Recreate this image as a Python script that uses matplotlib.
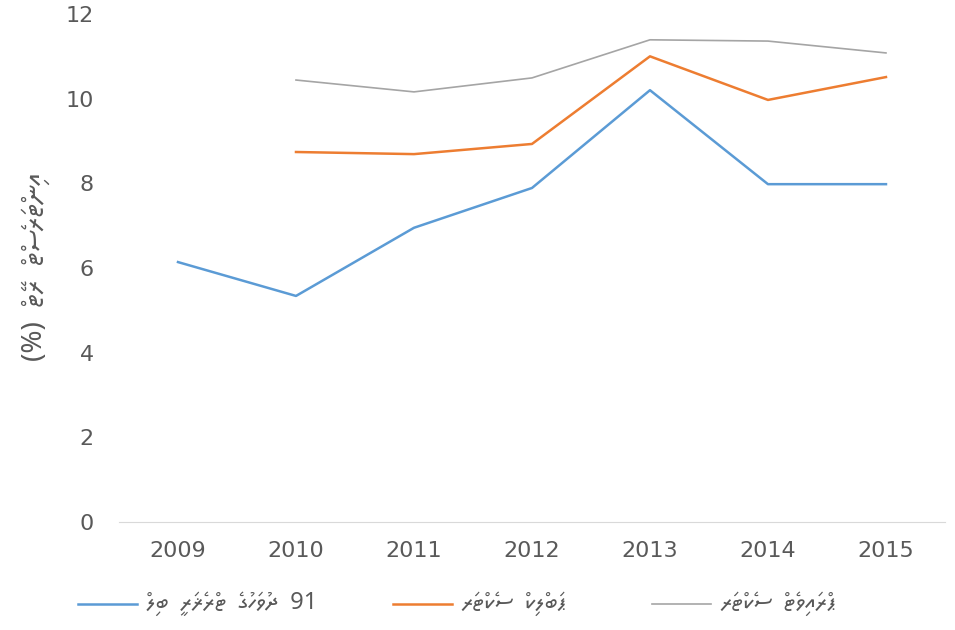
import os
import matplotlib
matplotlib.use("Agg")
import matplotlib.pyplot as plt
from matplotlib import font_manager
from matplotlib.lines import Line2D
import numpy as np

# data
years = ["2009", "2010", "2011", "2012", "2013", "2014", "2015"]
tbill_91 = [6.14, 5.34, 6.95, 7.89, 10.2, 7.98, 7.98]
public_sector = [np.nan, 8.74, 8.69, 8.93, 11.0, 9.97, 10.51]
private_sector = [np.nan, 10.44, 10.16, 10.49, 11.39, 11.36, 11.08]

labels = ["91 ދުވަހުގެ ޓްރެޜަރީ ބިލް", "ޕަބްލިކް ސެކްޓަރ", "ޕްރައިވެޓް ސެކްޓަރ"]
ylabel = "އިންޓަރެސްޓް ރޭޓް (%)"
yticks = [0, 2, 4, 6, 8, 10, 12]
colors = ['#5b9bd5', '#ed7d31', '#a5a5a5']

# Thaana font is not always registered, add it by path
thaana_path = '/usr/share/fonts/truetype/google-fonts/NotoSansThaana[wght].ttf'
if os.path.exists(thaana_path):
    font_manager.fontManager.addfont(thaana_path)
thaana = ['Noto Sans Thaana', 'Liberation Sans', 'DejaVu Sans']

plt.rcParams['font.family'] = ['DejaVu Sans']


# matplotlib lays text out left to right: reverse the Thaana words by hand
# (marks end up before their letter, which is how the font expects them)
def visual(s):
    out = []
    for w in reversed(s.split(' ')):
        if any('\u0780' <= c <= '\u07bf' for c in w):
            w = w[::-1]
        out.append(w)
    return '  '.join(out)


fig = plt.figure(figsize=(9.55, 6.3), dpi=100)
ax = fig.add_axes([0.1246, 0.1714, 0.8649, 0.8064])

x = np.arange(len(years))
ax.plot(x, tbill_91, color=colors[0], lw=1.8)
ax.plot(x, public_sector, color=colors[1], lw=1.8)
ax.plot(x, private_sector, color=colors[2], lw=1.2)

ax.set_xlim(-0.5, len(years) - 0.5)
ax.set_ylim(0, 12)
ax.set_xticks(x)
ax.set_xticklabels(years)
ax.set_yticks(yticks)
ax.tick_params(axis='both', length=0, labelsize=16, colors='#595959')
ax.tick_params(axis='x', pad=14)
ax.tick_params(axis='y', pad=18)
for s in ['top', 'right', 'left']:
    ax.spines[s].set_visible(False)
ax.spines['bottom'].set_color('#d9d9d9')

fig.text(0.037, 0.576, visual(ylabel), rotation=90, ha='center', va='center',
         fontsize=20, color='#595959', family=thaana)

# legend row at the bottom
legend_x = [78, 393, 652]
W, H = fig.get_size_inches() * fig.dpi
for lx, lab, c, lw in zip(legend_x, labels, colors, [1.8, 1.8, 1.2]):
    fig.add_artist(Line2D([lx / W, (lx + 59) / W], [1 - 604 / H] * 2, color=c, lw=lw))
    fig.text((lx + 68) / W, 1 - 604 / H, visual(lab), ha='left', va='center',
             fontsize=17, color='#595959', family=thaana)

fig.savefig("out.png", dpi=100)
